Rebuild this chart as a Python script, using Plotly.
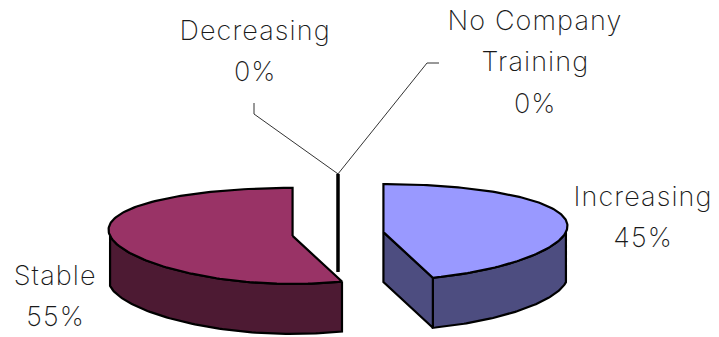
import numpy as np
import plotly.graph_objects as go

# Survey shares, in pie order (clockwise from 12 o'clock)
categories = ["Increasing", "Stable", "Decreasing", "No Company Training"]
shares = [45, 55, 0, 0]
label_rows = [["Increasing"], ["Stable"], ["Decreasing"], ["No Company", "Training"]]

top_colors = ["#9999FF", "#993366", "#993366", "#993366"]
side_colors = ["#4D4D80", "#4D1A33", "#4D1A33", "#4D1A33"]

# Projection of the tilted pie, in page pixels
W, H = 719, 337
CX, CY = 338, 234
RX, RY = 182.5, 48
DEPTH = 50
EXPLODE = 46
SKEW = 0.13

FONT = dict(family="Inter", size=27, color="#1a1a1a", weight=200)
LINE_GAP = 41.5

# Centre of the text block's first row for each category
label_anchor = [(643, 196), (55, 275), (255, 30), (535, 20)]
# Bends of the leader lines for the thin slices
leader_bends = {2: [(254, 114), (254, 103)], 3: [(427, 63), (439, 63)]}


def rim(t, c):
    """Screen position of a rim point at clockwise angle t (radians)."""
    return (c[0] + RX * np.sin(t) * (1 + SKEW * np.cos(t)), c[1] - RY * np.cos(t))


def poly(fig, xs, ys, fill, width=2.2):
    fig.add_trace(go.Scatter(
        x=list(xs), y=list(ys), mode="lines", fill="toself", fillcolor=fill,
        line=dict(color="black", width=width), hoverinfo="skip", showlegend=False,
    ))


fig = go.Figure()

# Slice angles and exploded centres, all derived from the shares
total = sum(shares)
edges = np.concatenate([[0], np.cumsum(shares)]) / total * 2 * np.pi
slices = []
for i in range(len(shares)):
    a0, a1 = edges[i], edges[i + 1]
    mid = (a0 + a1) / 2
    c = (CX + EXPLODE * np.sin(mid), CY - EXPLODE * RY / RX * np.cos(mid))
    slices.append((i, a0, a1, c))

# Thin slices sit behind the two real ones, with their leaders
thin = [s for s in slices if shares[s[0]] == 0]
wide = sorted([s for s in slices if shares[s[0]] > 0], key=lambda s: s[0] == 0)

for i, a0, a1, c in thin:
    tip = rim(a1, c)
    bends = leader_bends[i]
    fig.add_trace(go.Scatter(
        x=[tip[0]] + [p[0] for p in bends], y=[tip[1]] + [p[1] for p in bends],
        mode="lines", line=dict(color="#333333", width=1),
        hoverinfo="skip", showlegend=False,
    ))
for i, a0, a1, c in thin:
    tip = rim(a1, c)
    fig.add_trace(go.Scatter(
        x=[tip[0], c[0]], y=[tip[1], c[1] + DEPTH],
        mode="lines", line=dict(color="black", width=3),
        hoverinfo="skip", showlegend=False,
    ))

for i, a0, a1, c in wide:
    # Outer wall: the part of the rim that faces the viewer
    lo, hi = max(a0, np.pi / 2), min(a1, 3 * np.pi / 2)
    if hi > lo:
        t = np.linspace(lo, hi, 80)
        x, y = rim(t, c)
        poly(fig, np.r_[x, x[::-1], x[0]], np.r_[y, y[::-1] + DEPTH, y[0]], side_colors[i])
    # Cut walls that turn towards the viewer
    if np.sin(a1) > 1e-9:
        x, y = rim(a1, c)
        poly(fig, [c[0], x, x, c[0], c[0]],
             [c[1], y, y + DEPTH, c[1] + DEPTH, c[1]], side_colors[i])
    if np.sin(a0) < -1e-9:
        x, y = rim(a0, c)
        poly(fig, [c[0], x, x, c[0], c[0]],
             [c[1], y, y + DEPTH, c[1] + DEPTH, c[1]], side_colors[i])
    # Top face
    t = np.linspace(a0, a1, 160)
    x, y = rim(t, c)
    poly(fig, np.r_[c[0], x, c[0]], np.r_[c[1], y, c[1]], top_colors[i])

# Category names with the share on the row below
for i, rows in enumerate(label_rows):
    ax, ay = label_anchor[i]
    lines = rows + [f"{shares[i]}%"]
    for k, row in enumerate(lines):
        fig.add_annotation(x=ax, y=ay + k * LINE_GAP, text=row, showarrow=False,
                           xanchor="center", yanchor="middle", font=FONT)

fig.update_layout(
    width=W, height=H, margin=dict(l=0, r=0, t=0, b=0),
    paper_bgcolor="white", plot_bgcolor="white", showlegend=False,
    xaxis=dict(range=[0, W], visible=False, fixedrange=True),
    yaxis=dict(range=[H, 0], visible=False, fixedrange=True),
)
# Open up the tracking of the labels
spacing = "document.querySelectorAll('.annotation-text').forEach(e => e.style.letterSpacing = '1.1px');"
fig.write_html("out.html", config=dict(displayModeBar=False), post_script=spacing)
